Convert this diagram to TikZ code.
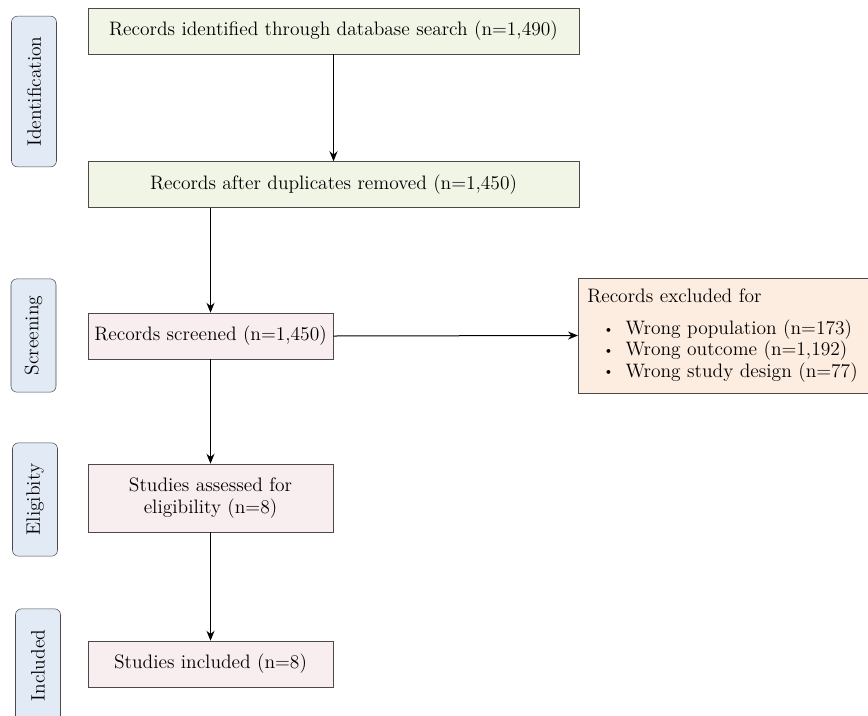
\documentclass[tikz,border=0pt]{standalone}
\usepackage{fontspec}
\usetikzlibrary{positioning,arrows.meta}
\definecolor{boxgray}{HTML}{4A4A4A}
\definecolor{idgreen}{HTML}{F1F5E6}
\definecolor{scrpink}{HTML}{F9EEEF}
\definecolor{exclorange}{HTML}{FDEDE0}
\definecolor{phaseblue}{HTML}{E2EAF6}
\newcommand{\exbullet}{\hspace*{12pt}\raisebox{1pt}{\fontsize{10}{10}\selectfont\textbullet}\hspace{9pt}}
\begin{document}
\begin{tikzpicture}[>={Stealth[length=7.5pt,width=6pt,inset=2.5pt]}, x=0.75pt, y=-0.75pt,
    font=\fontsize{14.6}{16}\selectfont,
    phase/.style={draw=boxgray, fill=phaseblue, rounded corners=4.5pt,
        rotate=90, minimum height=33.75pt, inner sep=2pt},
    greenbox/.style={draw=boxgray, fill=idgreen, minimum width=368pt,
        minimum height=34.5pt},
    pinkbox/.style={draw=boxgray, fill=scrpink, minimum width=183.75pt,
        minimum height=34.5pt, align=center},
    link/.style={->, line width=0.75pt}]
    \useasboundingbox (0,0) rectangle (868,715);
    \clip (0,0) rectangle (868,715);
    % phase labels
    \node[phase, minimum width=113pt] (labid) at (34,91.5) {Identification};
    \node[phase, minimum width=85pt] (labscr) at (33.5,335.5) {Screening};
    \node[phase, minimum width=85pt] (labelig) at (35,499.5) {Eligibity};
    \node[phase, minimum width=85pt] (labincl) at (38,665.5) {Included};
    % flow boxes
    \node[greenbox] (found) at (333.5,31) {Records identified through database search (n=1,490)};
    \node[greenbox] (dedup) at (333.5,184.5) {Records after duplicates removed (n=1,450)};
    \node[pinkbox] (screened) at (210.5,336) {Records screened (n=1,450)};
    \node[pinkbox, minimum height=51pt] (assessed) at (210.5,498) {Studies assessed for\\eligibility (n=8)};
    \node[pinkbox] (included) at (210.5,664) {Studies included (n=8)};
    \node[draw=boxgray, fill=exclorange, anchor=west, text width=211.5pt,
        inner xsep=6.75pt, minimum height=86pt, align=left]
        (excluded) at (578,335.5) {Records excluded for\\[8pt]
        \exbullet Wrong population (n=173)\\
        \exbullet Wrong outcome (n=1,192)\\
        \exbullet Wrong study design (n=77)};
    % connectors
    \draw[link] (found) -- (dedup);
    \draw[link] (dedup.south -| screened.north) -- (screened.north);
    \draw[link] (screened) -- (assessed);
    \draw[link] (assessed) -- (included);
    \draw[link] (screened.east) -- (excluded.west);
\end{tikzpicture}
\end{document}
